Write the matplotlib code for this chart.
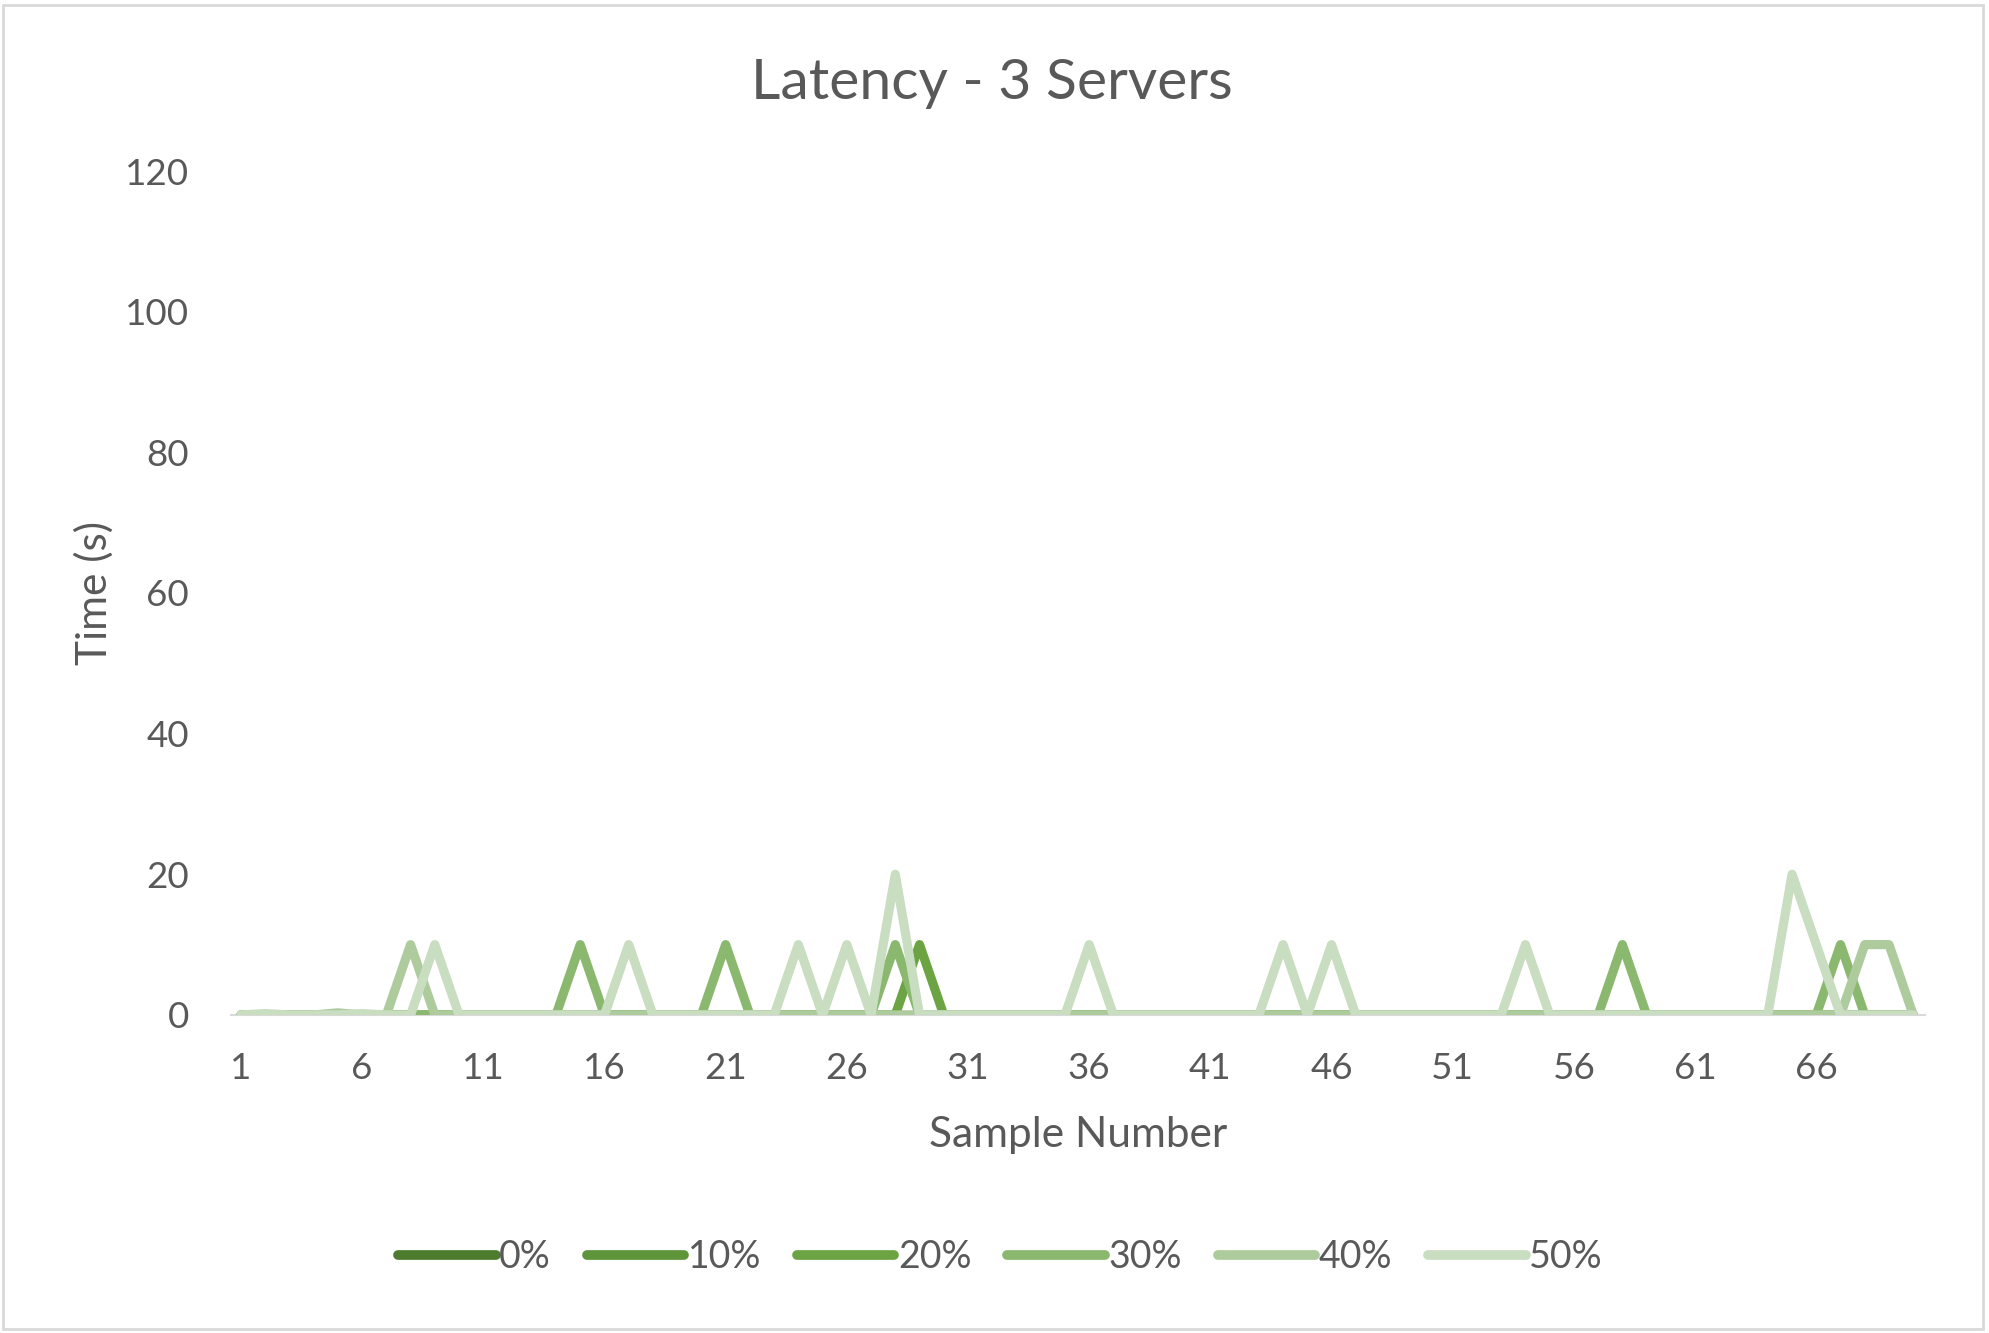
import matplotlib
matplotlib.use("Agg")
from matplotlib import pyplot as plt
from matplotlib.patches import Rectangle

# sample numbers 1..70
samples = list(range(1, 71))

# latency (s) per sample, one list per loss rate
lat_0 = [0, 0, 0, 0, 0, 0, 0, 0, 0, 0,
         0, 0, 0, 0, 0, 0, 0, 0, 0, 0,
         0, 0, 0, 0, 0, 0, 0, 0, 0, 0,
         0, 0, 0, 0, 0, 0, 0, 0, 0, 0,
         0, 0, 0, 0, 0, 0, 0, 0, 0, 0,
         0, 0, 0, 0, 0, 0, 0, 0, 0, 0,
         0, 0, 0, 0, 0, 0, 0, 0, 0, 0]
lat_10 = [0, 0, 0, 0, 0, 0, 0, 0, 0, 0,
          0, 0, 0, 0, 0, 0, 0, 0, 0, 0,
          0, 0, 0, 0, 0, 0, 0, 0, 0, 0,
          0, 0, 0, 0, 0, 0, 0, 0, 0, 0,
          0, 0, 0, 0, 0, 0, 0, 0, 0, 0,
          0, 0, 0, 0, 0, 0, 0, 0, 0, 0,
          0, 0, 0, 0, 0, 0, 0, 0, 0, 0]
lat_20 = [0, 0, 0, 0, 0, 0, 0, 0, 0, 0,
          0, 0, 0, 0, 0, 0, 0, 0, 0, 0,
          0, 0, 0, 0, 0, 0, 0, 0, 10, 0,
          0, 0, 0, 0, 0, 0, 0, 0, 0, 0,
          0, 0, 0, 0, 0, 0, 0, 0, 0, 0,
          0, 0, 0, 0, 0, 0, 0, 0, 0, 0,
          0, 0, 0, 0, 0, 0, 0, 0, 0, 0]
lat_30 = [0, 0, 0, 0, 0, 0, 0, 0, 0, 0,
          0, 0, 0, 0, 10, 0, 0, 0, 0, 0,
          10, 0, 0, 0, 0, 0, 0, 10, 0, 0,
          0, 0, 0, 0, 0, 0, 0, 0, 0, 0,
          0, 0, 0, 0, 0, 0, 0, 0, 0, 0,
          0, 0, 0, 0, 0, 0, 0, 10, 0, 0,
          0, 0, 0, 0, 0, 0, 10, 0, 0, 0]
lat_40 = [0, 0, 0, 0, 0.3, 0, 0, 10, 0, 0,
          0, 0, 0, 0, 0, 0, 0, 0, 0, 0,
          0, 0, 0, 0, 0, 0, 0, 0, 0, 0,
          0, 0, 0, 0, 0, 0, 0, 0, 0, 0,
          0, 0, 0, 0, 0, 0, 0, 0, 0, 0,
          0, 0, 0, 0, 0, 0, 0, 0, 0, 0,
          0, 0, 0, 0, 0, 0, 0, 10, 10, 0]
lat_50 = [0, 0.2, 0, 0, 0, 0.2, 0, 0, 10, 0,
          0, 0, 0, 0, 0, 0, 10, 0, 0, 0,
          0, 0, 0, 10, 0, 10, 0, 20, 0, 0,
          0, 0, 0, 0, 0, 10, 0, 0, 0, 0,
          0, 0, 0, 10, 0, 10, 0, 0, 0, 0,
          0, 0, 0, 10, 0, 0, 0, 0, 0, 0,
          0, 0, 0, 0, 20, 10, 0, 0, 0, 0]

series = [lat_0, lat_10, lat_20, lat_30, lat_40, lat_50]
labels = ["0%", "10%", "20%", "30%", "40%", "50%"]
colors = ["#4e7c2f", "#5f953a", "#6ca443", "#8bb86f", "#adcb9c", "#c9ddc1"]
xtick_vals = [1, 6, 11, 16, 21, 26, 31, 36, 41, 46, 51, 56, 61, 66]
ytick_vals = [0, 20, 40, 60, 80, 100, 120]

txt = "#595959"
plt.rcParams["font.family"] = ["Lato", "DejaVu Sans"]

fig = plt.figure(figsize=(19.89, 13.33), dpi=100)
ax = fig.add_axes([0.116, 0.2386, 0.852, 0.6331])

for vals, lab, col in zip(series, labels, colors):
    ax.plot(samples, vals, color=col, lw=6.6, label=lab,
            solid_capstyle="round", solid_joinstyle="round")

ax.set_xlim(0.58, 70.5)
ax.set_ylim(0, 120)
ax.set_xticks(xtick_vals)
ax.set_yticks(ytick_vals)
ax.tick_params(axis="both", length=0, labelsize=26.5, colors=txt)
ax.tick_params(axis="y", pad=30)
ax.tick_params(axis="x", pad=27)
for s in ["top", "right", "left"]:
    ax.spines[s].set_visible(False)
ax.spines["bottom"].set_color("#d9d9d9")
ax.spines["bottom"].set_linewidth(1.5)
ax.spines["bottom"].set_zorder(0)

fig.text(0.4985, 0.937, "Latency - 3 Servers", fontsize=41, color=txt,
         ha="center", va="center")
ax.set_xlabel("Sample Number", fontsize=30.5, color=txt, labelpad=22)
ax.set_ylabel("Time (s)", fontsize=30.5, color=txt, labelpad=8)

leg = fig.legend(loc="center", bbox_to_anchor=(0.503, 0.057), ncol=6,
                 frameon=False, fontsize=27, handlelength=2.6,
                 handletextpad=0.1, columnspacing=0.95)
for t in leg.get_texts():
    t.set_color(txt)
for h in leg.get_lines():
    h.set_linewidth(7)
    h.set_solid_capstyle("round")

fig.patches.append(Rectangle((0.0015, 0.003), 0.9955, 0.993, transform=fig.transFigure,
                             fill=False, edgecolor="#d9d9d9", lw=2))

fig.savefig("out.png", dpi=100)
